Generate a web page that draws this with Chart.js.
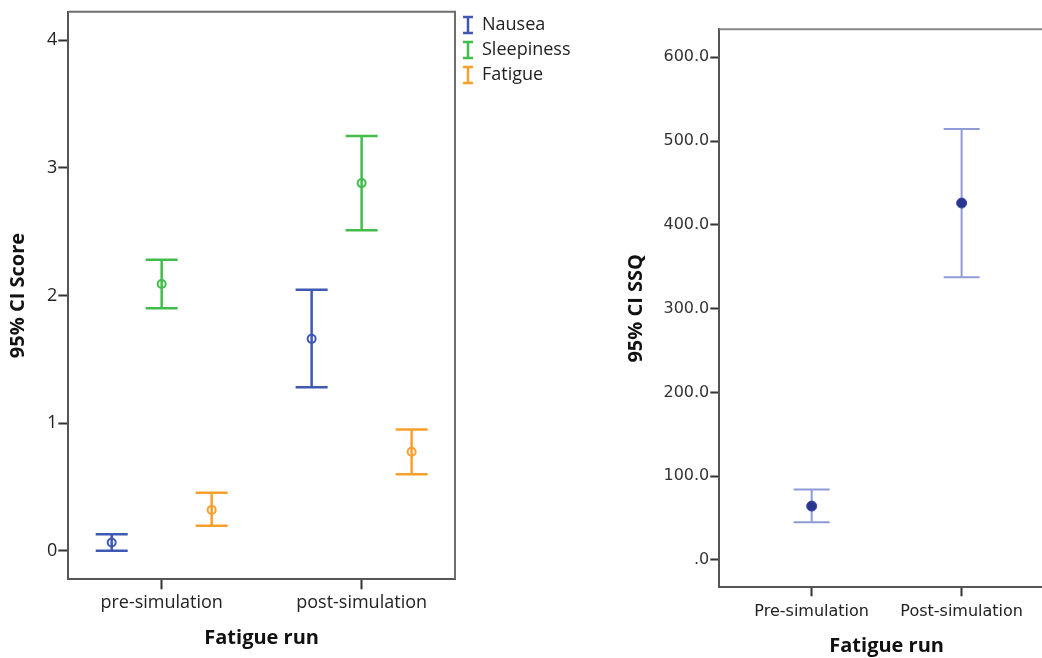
<!DOCTYPE html>
<html>
<head>
<meta charset="utf-8">
<script src="https://cdn.jsdelivr.net/npm/chart.js@4.4.1/dist/chart.umd.min.js"></script>
<style>
  html, body { margin: 0; padding: 0; background: #fff; overflow: hidden; width: 1042px; height: 658px; }
  #wrapL { position: absolute; left: 0; top: 0; width: 600px; height: 658px; }
  #wrapR { position: absolute; left: 600px; top: 0; width: 500px; height: 658px; }
  canvas { display: block; }
</style>
</head>
<body>
<div id="wrapL"><canvas id="scoreChart" width="600" height="658"></canvas></div>
<div id="wrapR"><canvas id="ssqChart" width="500" height="658"></canvas></div>
<script>
// ---- Symptom scores (mean with 95% CI) ----
const runCategories = ['pre-simulation', 'post-simulation'];
const seriesNames = ['Nausea', 'Sleepiness', 'Fatigue'];
const seriesColors = ['#3f58b4', '#42bd4a', '#f9a02c'];
const seriesOffsets = [-0.25, 0, 0.25];

const nauseaMean = [0.065, 1.66];
const nauseaLower = [0.0, 1.28];
const nauseaUpper = [0.13, 2.045];

const sleepinessMean = [2.09, 2.88];
const sleepinessLower = [1.90, 2.51];
const sleepinessUpper = [2.28, 3.25];

const fatigueMean = [0.32, 0.775];
const fatigueLower = [0.195, 0.60];
const fatigueUpper = [0.455, 0.95];

const scoreTicks = [0, 1, 2, 3, 4];

// ---- SSQ total (mean with 95% CI) ----
const ssqCategories = ['Pre-simulation', 'Post-simulation'];
const ssqMean = [64.3, 426];
const ssqLower = [45, 337.5];
const ssqUpper = [84, 514.5];
const ssqTicks = [0, 100, 200, 300, 400, 500, 600];

const scoreMeans = [nauseaMean, sleepinessMean, fatigueMean];
const scoreLowers = [nauseaLower, sleepinessLower, fatigueLower];
const scoreUppers = [nauseaUpper, sleepinessUpper, fatigueUpper];

// Draws vertical CI whiskers with caps, using the chart's own scales
const errorBarPlugin = {
  id: 'errorBars',
  beforeDatasetsDraw(chart) {
    const ctx = chart.ctx;
    const xs = chart.scales.x, ys = chart.scales.y;
    chart.data.datasets.forEach(ds => {
      ctx.save();
      ctx.strokeStyle = ds.barColor || ds.borderColor;
      ctx.lineWidth = ds.barWidth;
      ctx.lineCap = 'butt';
      ds.data.forEach((pt, j) => {
        const x = xs.getPixelForValue(pt.x);
        const yl = ys.getPixelForValue(ds.lower[j]);
        const yu = ys.getPixelForValue(ds.upper[j]);
        ctx.beginPath();
        ctx.moveTo(x, yl); ctx.lineTo(x, yu);
        ctx.moveTo(x - ds.capHalf, yu); ctx.lineTo(x + ds.capHalf, yu);
        ctx.moveTo(x - ds.capHalf, yl); ctx.lineTo(x + ds.capHalf, yl);
        ctx.stroke();
      });
      ctx.restore();
    });
  },
  afterDraw(chart, args, opts) {
    const ctx = chart.ctx;
    const a = chart.chartArea;
    ctx.save();
    ctx.strokeStyle = opts.frameColor || '#777';
    ctx.lineWidth = 2;
    ctx.beginPath();
    ctx.moveTo(a.left, a.top); ctx.lineTo(a.right, a.top); ctx.lineTo(a.right, a.bottom);
    ctx.stroke();
    ctx.restore();

    if (opts.legend) {
      ctx.save();
      chart.data.datasets.forEach((ds, i) => {
        const cx = a.right + 13;
        const cy = 25 + i * 25;
        ctx.strokeStyle = ds.borderColor;
        ctx.lineWidth = 2.5;
        ctx.beginPath();
        ctx.moveTo(cx, cy - 8); ctx.lineTo(cx, cy + 8);
        ctx.moveTo(cx - 5, cy - 8); ctx.lineTo(cx + 5, cy - 8);
        ctx.moveTo(cx - 5, cy + 8); ctx.lineTo(cx + 5, cy + 8);
        ctx.stroke();
        ctx.fillStyle = '#222';
        ctx.font = '18px "Open Sans", sans-serif';
        ctx.textBaseline = 'middle';
        ctx.textAlign = 'left';
        ctx.fillText(ds.label, cx + 14, cy);
      });
      ctx.restore();
    }
  }
};

const leftTickFont = { family: '"Open Sans", sans-serif', size: 18 };
const titleFont = { family: '"Open Sans", sans-serif', size: 20, weight: 'bold' };

new Chart(document.getElementById('scoreChart'), {
  type: 'scatter',
  data: {
    datasets: seriesNames.map((name, i) => ({
      label: name,
      data: runCategories.map((c, j) => ({ x: j + seriesOffsets[i], y: scoreMeans[i][j] })),
      lower: scoreLowers[i],
      upper: scoreUppers[i],
      capHalf: 16,
      barWidth: 2.5,
      borderColor: seriesColors[i],
      backgroundColor: 'rgba(255,255,255,0)',
      pointRadius: 4,
      pointBorderWidth: 2,
      pointHoverRadius: 4
    }))
  },
  options: {
    responsive: false,
    animation: false,
    events: [],
    layout: { padding: { top: 10.7, right: 145, bottom: 0, left: 0 } },
    plugins: {
      legend: { display: false },
      tooltip: { enabled: false },
      errorBars: { legend: true, frameColor: '#6e6e6e' }
    },
    scales: {
      x: {
        type: 'linear', bounds: 'data',
        min: -0.467, max: 1.467,
        afterBuildTicks: s => { s.ticks = runCategories.map((c, i) => ({ value: i })); },
        afterFit: s => { s.height = 78.7; },
        ticks: { callback: v => runCategories[v], font: leftTickFont, color: '#222', padding: 3, maxRotation: 0, autoSkip: false },
        grid: { drawOnChartArea: false, drawTicks: true, tickLength: 10, tickColor: '#333', tickWidth: 2 },
        border: { display: true, color: '#555', width: 2 },
        title: { display: true, text: 'Fatigue run', font: titleFont, color: '#111', padding: { top: 10, bottom: 8 } }
      },
      y: {
        type: 'linear', bounds: 'data',
        min: -0.2236, max: 4.222,
        afterBuildTicks: s => { s.ticks = scoreTicks.map(v => ({ value: v })); },
        afterFit: s => { s.width = 68.3; },
        ticks: { callback: v => String(v), font: leftTickFont, color: '#222', padding: 1 },
        grid: { drawOnChartArea: false, drawTicks: true, tickLength: 10, tickColor: '#333', tickWidth: 2 },
        border: { display: true, color: '#555', width: 2 },
        title: { display: true, text: '95% CI Score', font: titleFont, color: '#111', padding: { top: 6, bottom: 0 } }
      }
    }
  },
  plugins: [errorBarPlugin]
});

const rightTickFont = { family: '"DejaVu Sans", sans-serif', size: 16 };

new Chart(document.getElementById('ssqChart'), {
  type: 'scatter',
  data: {
    datasets: [{
      label: 'SSQ',
      data: ssqCategories.map((c, j) => ({ x: j, y: ssqMean[j] })),
      lower: ssqLower,
      upper: ssqUpper,
      capHalf: 18,
      barWidth: 2,
      barColor: '#8e9bd7',
      borderColor: '#3a47a0',
      backgroundColor: '#2a3590',
      pointRadius: 5,
      pointBorderWidth: 1,
      pointHoverRadius: 5
    }]
  },
  options: {
    responsive: false,
    animation: false,
    events: [],
    layout: { padding: { top: 29.3, right: 46, bottom: 0, left: 0 } },
    plugins: {
      legend: { display: false },
      tooltip: { enabled: false },
      errorBars: { legend: false, frameColor: '#888' }
    },
    scales: {
      x: {
        type: 'linear', bounds: 'data',
        min: -0.616, max: 1.616,
        afterBuildTicks: s => { s.ticks = ssqCategories.map((c, i) => ({ value: i })); },
        afterFit: s => { s.height = 70.7; },
        ticks: { callback: v => ssqCategories[v], font: rightTickFont, color: '#222', padding: 6, maxRotation: 0, autoSkip: false },
        grid: { drawOnChartArea: false, drawTicks: true, tickLength: 9, tickColor: '#333', tickWidth: 2 },
        border: { display: true, color: '#555', width: 2 },
        title: { display: true, text: 'Fatigue run', font: titleFont, color: '#111', padding: { top: 8, bottom: 0 } }
      },
      y: {
        type: 'linear', bounds: 'data',
        min: -32.6, max: 633.4,
        afterBuildTicks: s => { s.ticks = ssqTicks.map(v => ({ value: v })); },
        afterFit: s => { s.width = 119.3; },
        ticks: { callback: v => (v === 0 ? '.0' : v.toFixed(1)), font: rightTickFont, color: '#333', padding: 1 },
        grid: { drawOnChartArea: false, drawTicks: true, tickLength: 9, tickColor: '#333', tickWidth: 2 },
        border: { display: true, color: '#555', width: 2 },
        title: { display: true, text: '95% CI SSQ', font: titleFont, color: '#111', padding: { top: 24, bottom: 0 } }
      }
    }
  },
  plugins: [errorBarPlugin]
});
</script>
</body>
</html>
